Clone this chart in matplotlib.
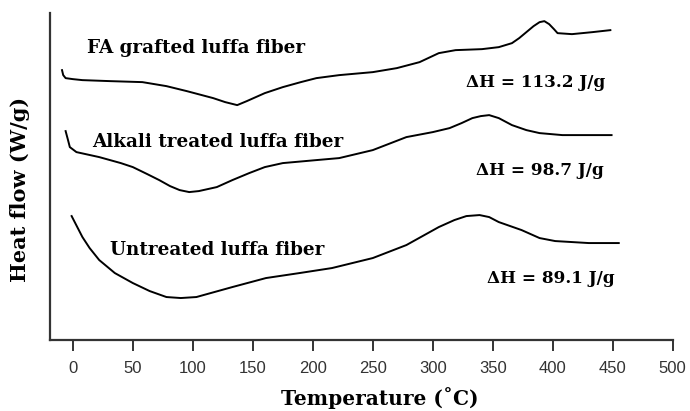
import matplotlib
matplotlib.use("Agg")
import matplotlib.pyplot as plt

# DSC curves (heat flow in arbitrary units, larger = higher on plot)
fa_temp = [-9, -8, -6, 0, 8, 31, 58, 78, 95, 117, 127, 137, 145, 160, 175, 190, 203, 222,
           250, 270, 289, 305, 319, 341, 355, 366, 372, 378, 384, 389, 393, 397, 401,
           404, 416, 433, 448]
fa_flow = [270, 265, 262, 261, 260, 259, 258, 254, 249, 242, 238, 235, 239, 247, 253,
           258, 262, 265, 268, 272, 278, 287, 290, 291, 293, 297, 302, 308, 314, 318,
           319, 316, 311, 307, 306, 308, 310]

alk_temp = [-6, -4, -2.5, 3, 22, 40, 50, 62, 72, 81, 89, 97, 105, 120, 133, 147, 160,
            175, 203, 222, 250, 278, 300, 314, 324, 333, 340, 347, 355, 366, 378, 389,
            408, 449]
alk_flow = [209, 200, 193, 188, 183, 177, 173, 166, 160, 154, 150, 148, 149, 153, 160,
            167, 173, 177, 180, 182, 190, 203, 208, 212, 217, 222, 224, 225, 222, 215,
            210, 207, 205, 205]

unt_temp = [-1, 8, 14, 22, 35, 50, 64, 78, 90, 103, 118, 133, 161, 189, 216, 250, 278,
            305, 318, 328, 339, 347, 355, 374, 389, 402, 430, 455]
unt_flow = [124, 103, 92, 80, 67, 57, 49, 43, 42, 43, 48, 53, 62, 67, 72, 82, 95, 113,
            120, 124, 125, 123, 118, 110, 102, 99, 97, 97]

xticks = [0, 50, 100, 150, 200, 250, 300, 350, 400, 450, 500]

fig = plt.figure(figsize=(6.9, 4.11), dpi=100)
ax = fig.add_axes([0.0725, 0.1727, 0.9025, 0.7953])

for t, f in [(fa_temp, fa_flow), (alk_temp, alk_flow), (unt_temp, unt_flow)]:
    ax.plot(t, f, color="black", linewidth=1.4)

ax.set_xlim(-19, 500)
ax.set_ylim(0, 327)
ax.set_xticks(xticks)
ax.set_yticks([])
ax.spines["top"].set_visible(False)
ax.spines["right"].set_visible(False)
for s in ["left", "bottom"]:
    ax.spines[s].set_linewidth(1.6)
    ax.spines[s].set_color("#333333")
ax.tick_params(axis="x", direction="out", length=8, width=1.4, color="#333333",
               labelsize=12, labelcolor="#333333", pad=7)
for lab in ax.get_xticklabels():
    lab.set_family("Liberation Sans")

serif = dict(family="DejaVu Serif", weight="bold", color="black")
ax.text(12, 292, "FA grafted luffa fiber", fontsize=13.2, va="center", ha="left", **serif)
ax.text(16, 198, "Alkali treated luffa fiber", fontsize=13.2, va="center", ha="left", **serif)
ax.text(31, 90, "Untreated luffa fiber", fontsize=13.2, va="center", ha="left", **serif)

ax.text(328, 258, "ΔH = 113.2 J/g", fontsize=12.2, va="center", ha="left", **serif)
ax.text(336, 170, "ΔH = 98.7 J/g", fontsize=12.2, va="center", ha="left", **serif)
ax.text(345, 62, "ΔH = 89.1 J/g", fontsize=12.2, va="center", ha="left", **serif)

fig.text(0.551, 0.032, "Temperature (˚C)", fontsize=14.5, ha="center", va="center", **serif)
fig.text(0.029, 0.54, "Heat flow (W/g)", fontsize=15, ha="center", va="center",
         rotation=90, **serif)

fig.savefig("out.png", dpi=100)
